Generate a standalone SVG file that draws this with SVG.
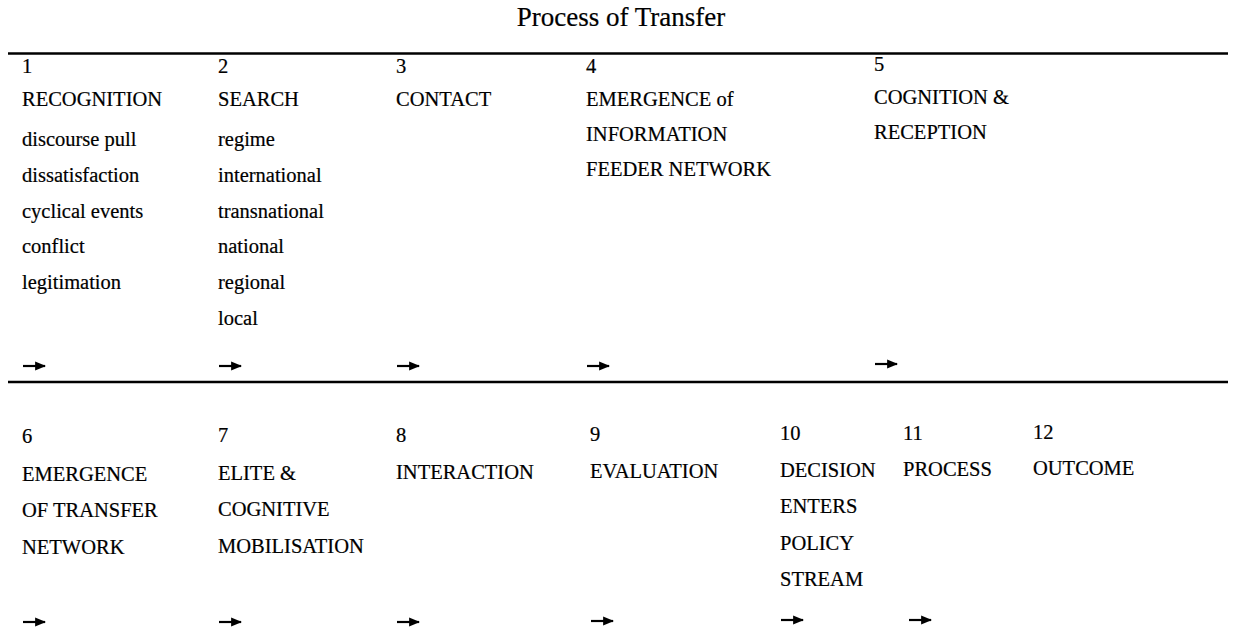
<svg xmlns="http://www.w3.org/2000/svg" width="1234" height="634" viewBox="0 0 1234 634">
  <defs>
    <marker id="head" viewBox="0 0 10 10" refX="9" refY="5" markerWidth="5" markerHeight="5" orient="auto" markerUnits="strokeWidth">
      <path d="M0,1 L10,5 L0,9 Z" fill="#000"/>
    </marker>
    <style>
      text { font-family: "Liberation Serif", "Times New Roman", serif; font-size: 20.5px; fill: #000; stroke: #000; stroke-width: 0.2; }
      .title { font-size: 27px; text-anchor: middle; }
      .rule { stroke: #000; stroke-width: 2.5; fill: none; }
      .flow { stroke: #000; stroke-width: 2.2; fill: none; marker-end: url(#head); }
    </style>
  </defs>
  <rect width="1234" height="634" fill="#fff"/>

  <text class="title" x="621" y="26">Process of Transfer</text>

  <!-- horizontal rules -->
  <line class="rule" x1="8" y1="53.5" x2="1228" y2="53.5"/>
  <line class="rule" x1="8" y1="382" x2="1228" y2="382"/>

  <!-- upper row: stages 1-5 -->
  <g id="stage1">
    <text x="22" y="73">1</text>
    <text x="22" y="106">RECOGNITION</text>
    <text x="22" y="146">discourse pull</text>
    <text x="22" y="182">dissatisfaction</text>
    <text x="22" y="218">cyclical events</text>
    <text x="22" y="253">conflict</text>
    <text x="22" y="289">legitimation</text>
  </g>
  <g id="stage2">
    <text x="218" y="73">2</text>
    <text x="218" y="106">SEARCH</text>
    <text x="218" y="146">regime</text>
    <text x="218" y="182">international</text>
    <text x="218" y="218">transnational</text>
    <text x="218" y="253">national</text>
    <text x="218" y="289">regional</text>
    <text x="218" y="325">local</text>
  </g>
  <g id="stage3">
    <text x="396" y="73">3</text>
    <text x="396" y="106">CONTACT</text>
  </g>
  <g id="stage4">
    <text x="586" y="73">4</text>
    <text x="586" y="106">EMERGENCE of</text>
    <text x="586" y="141">INFORMATION</text>
    <text x="586" y="176">FEEDER NETWORK</text>
  </g>
  <g id="stage5">
    <text x="874" y="71">5</text>
    <text x="874" y="104">COGNITION &amp;</text>
    <text x="874" y="139">RECEPTION</text>
  </g>

  <!-- lower row: stages 6-12 -->
  <g id="stage6">
    <text x="22" y="443">6</text>
    <text x="22" y="481">EMERGENCE</text>
    <text x="22" y="517">OF TRANSFER</text>
    <text x="22" y="554">NETWORK</text>
  </g>
  <g id="stage7">
    <text x="218" y="442">7</text>
    <text x="218" y="480">ELITE &amp;</text>
    <text x="218" y="516">COGNITIVE</text>
    <text x="218" y="553">MOBILISATION</text>
  </g>
  <g id="stage8">
    <text x="396" y="442">8</text>
    <text x="396" y="479">INTERACTION</text>
  </g>
  <g id="stage9">
    <text x="590" y="441">9</text>
    <text x="590" y="478">EVALUATION</text>
  </g>
  <g id="stage10">
    <text x="780" y="440">10</text>
    <text x="780" y="477">DECISION</text>
    <text x="780" y="513">ENTERS</text>
    <text x="780" y="550">POLICY</text>
    <text x="780" y="586">STREAM</text>
  </g>
  <g id="stage11">
    <text x="903" y="440">11</text>
    <text x="903" y="476">PROCESS</text>
  </g>
  <g id="stage12">
    <text x="1033" y="439">12</text>
    <text x="1033" y="475">OUTCOME</text>
  </g>

  <!-- flow arrows leading from each stage to the next -->
  <g id="connectors">
    <line class="flow" x1="23" y1="366" x2="45" y2="366"/>
    <line class="flow" x1="219" y1="366" x2="241" y2="366"/>
    <line class="flow" x1="397" y1="366" x2="419" y2="366"/>
    <line class="flow" x1="587" y1="366" x2="609" y2="366"/>
    <line class="flow" x1="875" y1="364" x2="897" y2="364"/>
    <line class="flow" x1="23" y1="622" x2="45" y2="622"/>
    <line class="flow" x1="219" y1="622" x2="241" y2="622"/>
    <line class="flow" x1="397" y1="622" x2="419" y2="622"/>
    <line class="flow" x1="591" y1="621" x2="613" y2="621"/>
    <line class="flow" x1="781" y1="620" x2="803" y2="620"/>
    <line class="flow" x1="909" y1="620" x2="931" y2="620"/>
  </g>
</svg>
